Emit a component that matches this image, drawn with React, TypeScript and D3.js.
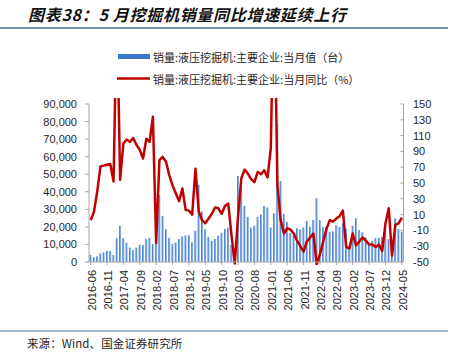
import React from "react";
import * as d3 from "d3";

// 销量:液压挖掘机:主要企业 2016-06 ~ 2024-05
const startMonth = new Date(2016, 5, 1);
const endMonth = new Date(2024, 5, 1);
const months = d3.timeMonth.range(startMonth, endMonth).map(d3.timeFormat("%Y-%m"));

const tickLabels = [
  "2016-06", "2016-11", "2017-04", "2017-09", "2018-02", "2018-07", "2018-12",
  "2019-05", "2019-10", "2020-03", "2020-08", "2021-01", "2021-06", "2021-11",
  "2022-04", "2022-09", "2023-02", "2023-07", "2023-12", "2024-05",
];

// 当月值（台）
const salesValues = [
  4000, 2800, 3200, 4900, 5500, 6300, 6300,
  4000, 13500, 20500, 13500, 11000, 8200, 6800, 8200, 9700, 9700, 13100, 13800,
  10200, 10600, 38100, 26200, 18600, 13800, 10200, 11000, 13100, 14600, 15200, 15200,
  11200, 17800, 44000, 28700, 18600, 14400, 12000, 13100, 15000, 16700, 18800, 19600,
  9700, 1700, 49000, 43000, 32000, 25700, 19500, 20700, 25600, 27100, 31900, 31100,
  19600, 27700, 78800, 46100, 27500, 23000, 16500, 15400, 19200, 18600, 19700, 23300,
  20100, 23900, 36300, 23900, 20100, 20100, 17300, 17500, 21000, 20000, 22000, 19000,
  9000, 20700, 24900, 18200, 16900, 14000, 11000, 12000, 13600, 13800, 14400, 19500,
  13000, 9000, 24900, 18800, 17300,
];

// 当月同比（%）
const yoyValues = [
  3, 13, 39, 71, 72, 73, 74,
  52, 280, 54, 100, 105, 102, 107, 98, 92, 81, 106, 102,
  134, -26, 79, 83, 77, 60, 47, 37, 27, 43, 16, 15,
  10, 68, 14, 3, -1, 5, 11, 19, 18, 11, 21, 24,
  -16, -52, 8, 56, 67, 62, 55, 51, 64, 61, 66, 57,
  94, 320, 48, 3, -14, -7, -9, -14, -23, -30, -37, -24,
  -19, -14, -53, -40, -24, -8, 3, 1, 5, 8, 15, -31,
  -33, -14, -29, -24, -19, -23, -28, -28, -31, -28, -36, -1,
  18, -42, -3, -1, 6,
];

const leftTicks = [0, 10000, 20000, 30000, 40000, 50000, 60000, 70000, 80000, 90000];
const rightTicks = [-50, -30, -10, 10, 30, 50, 70, 90, 110, 130, 150];

const W = 455;
const H = 362;
const plot = { left: 89, right: 403.5, top: 104, bottom: 262 };
const axisColor = "#a6a6a6";
const textColor = "#262626";
const latin = "'Liberation Sans', Arial, sans-serif";
const cjk = "'Noto Sans CJK SC', 'Liberation Sans', sans-serif";

export default function App() {
  const x = d3.scaleBand<string>().domain(months).range([plot.left, plot.right]).paddingInner(0.38).paddingOuter(0.19);
  const yL = d3.scaleLinear().domain([0, 90000]).range([plot.bottom, plot.top]);
  const yR = d3.scaleLinear().domain([-50, 150]).range([plot.bottom, plot.top]);
  const bw = x.bandwidth();
  const cx = (m: string) => (x(m) as number) + bw / 2;

  const line = d3
    .line<number>()
    .x((_, i) => cx(months[i]))
    .y((d) => yR(d));

  const fmt = d3.format(",");

  return (
    <svg width={W} height={H} style={{ position: "absolute", left: 0, top: 0, background: "#fff" }}>
      <defs>
        <linearGradient id="barGrad" x1="0" x2="1" y1="0" y2="0">
          <stop offset="0%" stopColor="#2d6cc6" />
          <stop offset="100%" stopColor="#a9c9ef" />
        </linearGradient>
        <clipPath id="plotClip">
          <rect x={plot.left} y={plot.top - 6} width={plot.right - plot.left} height={plot.bottom - plot.top + 9} />
        </clipPath>
      </defs>

      {/* title */}
      <text x={28} y={21} fontFamily={cjk} fontSize={16} fontWeight={700} fontStyle="italic" fill="#111" letterSpacing={0.7}>
        图表38：5 月挖掘机销量同比增速延续上行
      </text>
      <line x1={0} x2={448} y1={28} y2={28} stroke="#3f6f8f" strokeWidth={1.5} />

      {/* legend */}
      <rect x={118} y={54} width={32} height={5} fill="#3a78cc" />
      <text x={153} y={57} dominantBaseline="central" fontFamily={cjk} fontSize={11} fill={textColor}>
        销量:液压挖掘机:主要企业:当月值（台）
      </text>
      <line x1={117} x2={150} y1={78.5} y2={78.5} stroke="#c00000" strokeWidth={2.5} />
      <text x={153} y={79} dominantBaseline="central" fontFamily={cjk} fontSize={11} fill={textColor}>
        销量:液压挖掘机:主要企业:当月同比（%）
      </text>

      {/* bars */}
      <g>
        {salesValues.map((v, i) => (
          <rect key={months[i]} x={x(months[i])} y={yL(v)} width={bw} height={plot.bottom - yL(v)} fill="url(#barGrad)" />
        ))}
      </g>

      {/* line */}
      <path d={line(yoyValues) ?? ""} fill="none" stroke="#c00000" strokeWidth={2.5} strokeLinejoin="round" clipPath="url(#plotClip)" />

      {/* left axis */}
      <line x1={plot.left} x2={plot.left} y1={plot.top} y2={plot.bottom} stroke={axisColor} />
      {leftTicks.map((t) => (
        <g key={t}>
          <line x1={plot.left - 4} x2={plot.left} y1={yL(t)} y2={yL(t)} stroke={axisColor} />
          <text x={77} y={yL(t)} textAnchor="end" dominantBaseline="central" fontFamily={latin} fontSize={11} fill={textColor}>
            {fmt(t)}
          </text>
        </g>
      ))}

      {/* right axis */}
      <line x1={plot.right} x2={plot.right} y1={plot.top} y2={plot.bottom} stroke={axisColor} />
      {rightTicks.map((t) => (
        <g key={t}>
          <line x1={plot.right - 3} x2={plot.right} y1={yR(t)} y2={yR(t)} stroke={axisColor} />
          <text x={413} y={yR(t)} dominantBaseline="central" fontFamily={latin} fontSize={11} fill={textColor}>
            {t}
          </text>
        </g>
      ))}

      {/* x axis */}
      <line x1={plot.left} x2={plot.right} y1={plot.bottom} y2={plot.bottom} stroke={axisColor} />
      {tickLabels.map((m) => (
        <g key={m} transform={`translate(${cx(m)},${plot.bottom})`}>
          <line y1={0} y2={3} stroke={axisColor} />
          <text transform="translate(1,8) rotate(-90)" textAnchor="end" dominantBaseline="central" fontFamily={latin} fontSize={11} fill={textColor}>
            {m}
          </text>
        </g>
      ))}

      {/* footer */}
      <line x1={0} x2={448} y1={331} y2={331} stroke="#3f6f8f" strokeWidth={1} />
      <text x={27} y={343} dominantBaseline="central" fontFamily={cjk} fontSize={11.5} fill={textColor} letterSpacing={0.1}>
        来源：Wind、国金证券研究所
      </text>
    </svg>
  );
}
